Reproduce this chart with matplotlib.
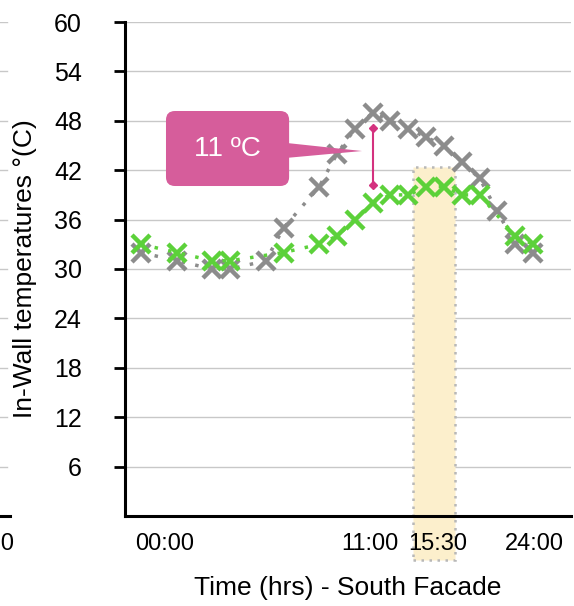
import matplotlib
matplotlib.use("Agg")
import matplotlib.pyplot as plt
from matplotlib.patches import Rectangle, FancyBboxPatch, Polygon
import numpy as np

plt.rcParams['font.family'] = ['Liberation Sans', 'DejaVu Sans']

# ---- data (x = slot index along the time axis) ----
gray_x = [0, 2, 4, 5, 7, 8, 10, 11, 12, 13, 14, 15, 16, 17, 18, 19, 20, 21, 22]
gray_y = [32, 31, 30, 30, 31, 35, 40, 44, 47, 49, 48, 47, 46, 45, 43, 41, 37, 33, 32]
green_x = [0, 2, 4, 5, 8, 10, 11, 12, 13, 14, 15, 16, 17, 18, 19, 21, 22]
green_y = [33, 32, 31, 31, 32, 33, 34, 36, 38, 39, 39, 40, 40, 39, 39, 34, 33]
xtick_pos = [1.3, 12.85, 16.65, 22.1]
xtick_labels = ["00:00", "11:00", "15:30", "24:00"]
yticks = [6, 12, 18, 24, 30, 36, 42, 48, 54, 60]
highlight_x = (15.26, 17.62)
highlight_y = (-5.3, 42.4)
peak_slot = 13

W, H = 574, 606
fig = plt.figure(figsize=(W / 100, H / 100), dpi=100)

def fpos(x0, y0, x1, y1):
    return [x0 / W, 1 - y1 / H, (x1 - x0) / W, (y1 - y0) / H]

ax = fig.add_axes(fpos(125, 22, 571, 516))
ax.set_xlim(-0.9, 24.13)
ax.set_ylim(0, 60)

grid_c = '#c8c8c8'
for v in yticks:
    ax.axhline(v, color=grid_c, lw=1.0, zorder=0)

# highlight band
ax.add_patch(Rectangle((highlight_x[0], highlight_y[0]), highlight_x[1] - highlight_x[0],
                       highlight_y[1] - highlight_y[0], facecolor='#fcefcc',
                       edgecolor='#b8b8b8', lw=1.8, ls=(0, (1, 2.2)), clip_on=False, zorder=1))

gray_c = '#8c8c8c'
green_c = '#5cd13a'
ax.plot(gray_x, gray_y, ls=(0, (1, 3)), lw=2.5, color=gray_c, marker='x', ms=13, mew=3.2, zorder=3)
ax.plot(green_x, green_y, ls=(0, (1, 3)), lw=2.5, color=green_c, marker='x', ms=13, mew=3.2, zorder=4)

# difference annotation
gpk = gray_y[gray_x.index(peak_slot)]
grpk = green_y[green_x.index(peak_slot)]
mag = '#d4327f'
ax.plot([peak_slot, peak_slot], [gpk - 1.9, grpk + 2.2], color=mag, lw=1.5, marker='D', ms=4, zorder=5)

box_c = '#d65d9b'
ax.add_patch(FancyBboxPatch((1.40, 40.08), 8.31 - 1.40, 49.19 - 40.08,
                            boxstyle='round,pad=0,rounding_size=0.5',
                            mutation_aspect=(1 / 8.233) / (1 / 17.82),
                            facecolor=box_c, edgecolor='none', zorder=6))
ax.add_patch(Polygon([(8.2, 45.3), (12.4, 44.33), (8.2, 43.5)], closed=True,
                     facecolor=box_c, edgecolor='none', zorder=6))
ax.text((1.40 + 8.31) / 2, 44.6, f"{gpk - grpk} ºC", color='white', fontsize=20,
        ha='center', va='center', zorder=7)

# axes styling
for s in ['top', 'right']:
    ax.spines[s].set_visible(False)
ax.spines['left'].set_linewidth(2.2)
ax.spines['bottom'].set_linewidth(2.2)
ax.set_yticks(yticks)
ax.set_yticklabels([str(v) for v in yticks], fontsize=18)
ax.tick_params(axis='y', length=8, width=2, pad=23)
ax.set_xticks(xtick_pos)
ax.set_xticklabels(xtick_labels, fontsize=17)
ax.tick_params(axis='x', length=0, pad=12)
ax.set_xlabel("Time (hrs) - South Facade", fontsize=19, labelpad=15)
ax.set_ylabel("In-Wall temperatures °(C)", fontsize=19)
ax.yaxis.set_label_coords(-0.197, 0.5)

# cropped neighbouring chart at the far left
ax2 = fig.add_axes([-0.5, 1 - 516 / H, (10 + 0.5 * W) / W, (516 - 22) / H])
ax2.set_xlim(0, 1)
ax2.set_ylim(0, 60)
for v in yticks:
    ax2.axhline(v, color=grid_c, lw=1.0, xmax=0.99)
for s in ['top', 'right', 'left']:
    ax2.spines[s].set_visible(False)
ax2.spines['bottom'].set_linewidth(2.2)
ax2.set_yticks([])
ax2.set_xticks([0.917])
ax2.set_xticklabels(["24:00"], fontsize=17)
ax2.tick_params(axis='x', length=0, pad=12)
ax2.patch.set_alpha(0)

fig.savefig("out.png", dpi=100)
